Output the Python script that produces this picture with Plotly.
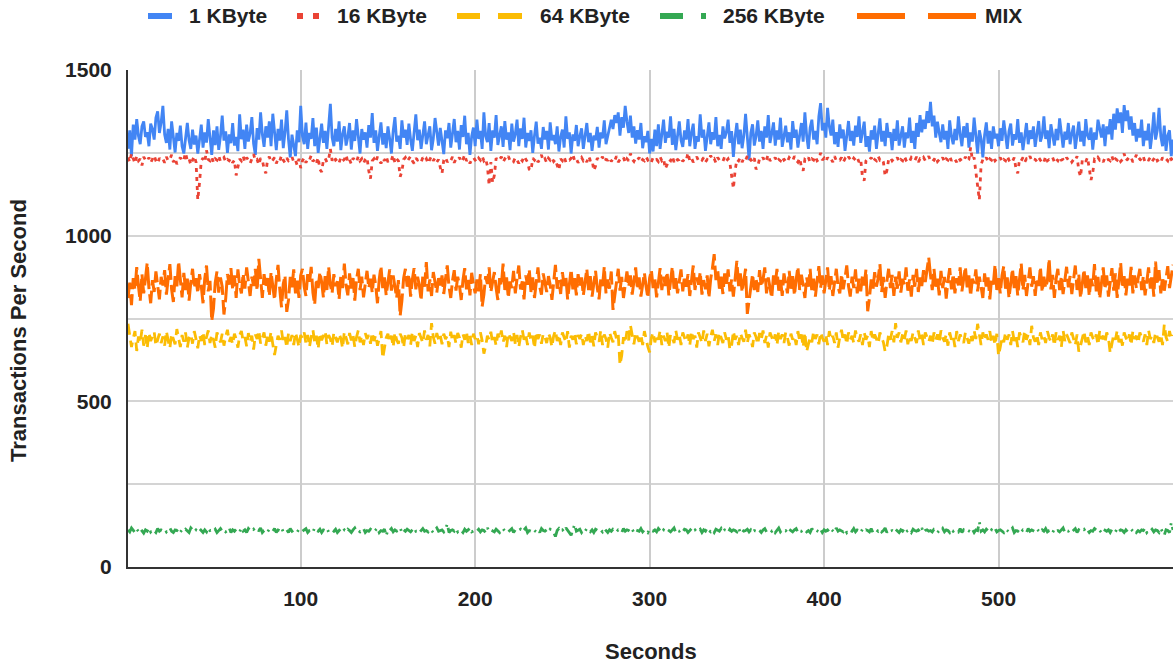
import plotly.graph_objects as go

# Transactions per second sampled once a second for each payload size
kbyte_1 = [
    1262,1318,1240,1335,1290,1352,1301,1276,1330,1345,1298,1312,1270,1338,1322,1290,1356,1375,1310,1342,
    1392,1305,1280,1322,1260,1345,1298,1251,1310,1286,1332,1270,1248,1305,1340,1288,1262,1320,1275,1302,
    1248,1290,1335,1266,1312,1281,1352,1296,1244,1318,1273,1330,1259,1300,1362,1287,1315,1250,1306,1279,
    1340,1272,1298,1255,1366,1291,1320,1262,1335,1284,1309,1358,1277,1244,1325,1290,1372,1306,1268,1330,
    1296,1345,1270,1368,1302,1258,1322,1287,1350,1264,1312,1378,1290,1236,1305,1268,1240,1318,1282,1392,
    1300,1276,1341,1262,1310,1292,1355,1270,1326,1250,1304,1338,1280,1316,1262,1348,1398,1296,1270,1322,
    1284,1345,1258,1306,1330,1272,1298,1340,1260,1318,1286,1352,1305,1248,1322,1290,1312,1266,1334,1296,
    1370,1280,1318,1256,1300,1342,1275,1309,1264,1330,1292,1248,1316,1358,1284,1302,1262,1348,1296,1320,
    1274,1338,1290,1256,1312,1366,1288,1320,1262,1305,1345,1276,1300,1330,1258,1292,1355,1310,1272,1325,
    1288,1246,1318,1294,1340,1266,1308,1352,1282,1316,1260,1334,1298,1362,1276,1310,1244,1300,1326,1270,
    1350,1292,1316,1262,1372,1300,1282,1340,1256,1318,1296,1364,1274,1308,1330,1268,1346,1290,1312,1258,
    1338,1284,1306,1350,1270,1324,1292,1356,1266,1310,1286,1318,1250,1302,1344,1278,1296,1262,1328,1290,
    1316,1260,1342,1288,1304,1276,1330,1254,1298,1320,1266,1360,1292,1312,1248,1306,1286,1334,1270,1300,
    1324,1262,1296,1340,1282,1310,1256,1302,1288,1328,1266,1312,1294,1348,1276,1300,1316,1350,1322,1364,
    1340,1372,1302,1358,1326,1392,1344,1310,1362,1296,1330,1278,1318,1290,1340,1264,1300,1282,1316,1248,
    1292,1254,1320,1270,1336,1262,1306,1350,1280,1314,1296,1360,1274,1322,1258,1300,1345,1288,1268,1318,
    1290,1352,1270,1310,1338,1262,1300,1284,1366,1296,1320,1256,1304,1342,1276,1312,1290,1358,1270,1304,
    1262,1330,1294,1312,1350,1280,1316,1238,1298,1340,1276,1320,1264,1302,1368,1290,1228,1310,1336,1272,
    1300,1348,1284,1316,1262,1330,1296,1364,1280,1308,1342,1272,1318,1290,1356,1268,1304,1332,1282,1312,
    1260,1346,1296,1320,1266,1308,1340,1284,1372,1302,1262,1326,1350,1290,1316,1276,1360,1400,1318,1340,
    1296,1386,1330,1302,1350,1276,1312,1268,1336,1294,1320,1256,1304,1346,1286,1316,1272,1332,1298,1360,
    1280,1310,1344,1268,1300,1254,1318,1290,1332,1262,1306,1354,1284,1316,1270,1340,1296,1312,1258,1322,
    1286,1348,1272,1304,1330,1266,1312,1294,1356,1280,1316,1262,1340,1298,1364,1312,1350,1322,1376,1340,
    1404,1330,1362,1296,1344,1310,1282,1336,1290,1316,1262,1348,1300,1276,1322,1288,1360,1306,1270,1330,
    1296,1340,1266,1312,1284,1356,1300,1248,1318,1292,1236,1304,1342,1278,1316,1262,1330,1294,1308,1270,
    1324,1286,1348,1300,1262,1316,1338,1272,1306,1290,1352,1280,1312,1258,1300,1340,1276,1318,1292,1330,
    1268,1310,1346,1284,1302,1360,1292,1318,1264,1336,1300,1272,1322,1288,1354,1306,1266,1314,1290,1340,
    1276,1308,1332,1262,1298,1344,1284,1316,1270,1352,1302,1290,1326,1260,1312,1290,1350,1318,1296,1336,
    1270,1330,1306,1352,1290,1368,1320,1384,1340,1372,1310,1394,1346,1378,1320,1360,1302,1340,1284,1322,
    1296,1350,1270,1316,1288,1338,1262,1306,1372,1290,1318,1386,1300,1270,1332,1256,1302,1318,1240,1290,
]

kbyte_16 = [
    1236,1222,1248,1230,1218,1240,1226,1232,1212,1238,1228,1224,1236,1220,1230,1242,1226,1218,1234,1228,
    1232,1220,1238,1226,1230,1244,1222,1234,1216,1228,1236,1224,1230,1250,1226,1232,1214,1228,1240,1222,
    1108,1160,1226,1234,1222,1258,1230,1226,1238,1220,1232,1228,1242,1224,1230,1236,1222,1230,1226,1234,
    1220,1228,1182,1210,1232,1226,1240,1222,1236,1228,1218,1232,1246,1226,1230,1214,1234,1228,1202,1188,
    1230,1238,1222,1228,1236,1218,1232,1226,1242,1228,1220,1234,1226,1230,1238,1222,1228,1212,1232,1204,
    1226,1236,1220,1232,1228,1242,1224,1230,1218,1236,1200,1192,1228,1234,1222,1230,1262,1226,1238,1228,
    1232,1220,1236,1226,1230,1244,1222,1230,1216,1234,1228,1222,1240,1226,1232,1218,1230,1236,1196,1172,
    1226,1232,1222,1238,1228,1218,1234,1226,1240,1222,1230,1228,1244,1220,1232,1226,1178,1194,1230,1236,
    1224,1232,1240,1226,1218,1234,1228,1230,1222,1236,1226,1232,1218,1230,1240,1226,1234,1222,1230,1206,
    1188,1228,1236,1222,1230,1226,1238,1220,1232,1228,1236,1222,1230,1244,1226,1232,1218,1230,1236,1228,
    1222,1234,1228,1240,1226,1232,1210,1152,1222,1160,1182,1234,1226,1230,1238,1222,1232,1228,1240,1226,
    1230,1224,1236,1228,1218,1232,1226,1240,1230,1222,1200,1196,1234,1228,1236,1222,1230,1244,1226,1232,
    1220,1234,1228,1236,1224,1230,1212,1198,1232,1226,1238,1222,1230,1228,1234,1246,1226,1232,1220,1230,
    1236,1226,1232,1222,1240,1228,1230,1196,1210,1234,1226,1232,1238,1222,1230,1228,1236,1224,1232,1226,
    1240,1222,1230,1228,1236,1220,1232,1226,1248,1230,1224,1234,1228,1236,1222,1230,1226,1238,1228,1232,
    1222,1236,1228,1230,1224,1238,1226,1232,1202,1214,1230,1226,1240,1222,1234,1228,1230,1236,1224,1232,
    1228,1250,1226,1234,1222,1230,1238,1226,1232,1228,1236,1222,1230,1226,1242,1228,1232,1220,1236,1228,
    1230,1224,1238,1226,1232,1220,1178,1142,1196,1230,1226,1236,1222,1234,1228,1240,1226,1230,1222,1234,
    1200,1210,1232,1228,1236,1222,1230,1244,1226,1232,1228,1236,1222,1230,1226,1238,1228,1232,1224,1236,
    1230,1226,1240,1228,1222,1234,1208,1196,1230,1226,1236,1222,1232,1228,1240,1226,1230,1250,1228,1234,
    1224,1236,1228,1232,1222,1240,1226,1230,1228,1236,1222,1232,1226,1238,1230,1224,1234,1228,1236,1222,
    1230,1176,1166,1226,1232,1228,1236,1222,1230,1226,1240,1228,1232,1222,1180,1196,1230,1236,1226,1232,
    1228,1236,1222,1230,1226,1240,1228,1232,1224,1236,1230,1226,1238,1222,1232,1228,1236,1226,1230,1240,
    1226,1232,1228,1238,1224,1230,1226,1236,1222,1232,1228,1240,1226,1234,1230,1222,1236,1228,1232,1226,
    1238,1224,1230,1266,1228,1236,1192,1150,1108,1214,1230,1226,1236,1222,1232,1228,1238,1226,1232,1228,
    1236,1222,1230,1226,1240,1228,1232,1224,1236,1202,1188,1230,1226,1236,1222,1232,1228,1240,1226,1232,
    1230,1224,1236,1228,1232,1222,1240,1226,1230,1228,1236,1222,1232,1226,1238,1228,1230,1224,1236,1228,
    1232,1222,1230,1226,1240,1196,1178,1228,1232,1224,1236,1202,1168,1190,1230,1226,1236,1228,1232,1222,
    1236,1228,1230,1226,1240,1222,1232,1228,1236,1224,1230,1248,1226,1232,1228,1236,1222,1230,1244,1228,
    1232,1226,1238,1222,1230,1228,1236,1224,1232,1240,1226,1230,1222,1236,1228,1232,1226,1240,1230,1234,
]

kbyte_64 = [
    734,698,664,690,712,652,696,676,716,668,700,660,708,682,694,710,668,690,704,676,
    696,668,712,684,660,704,690,672,718,688,664,700,680,708,662,692,702,674,712,688,
    660,700,682,710,670,694,714,676,702,686,662,708,692,678,704,668,696,716,680,694,
    672,704,688,662,700,712,682,694,666,706,680,698,656,702,688,714,674,694,708,668,
    700,680,710,672,640,670,698,686,714,676,694,662,706,682,700,670,708,688,664,700,
    690,708,674,700,664,694,716,678,698,658,706,684,696,712,672,700,688,666,708,694,
    678,704,690,660,710,692,672,706,684,700,664,694,714,678,698,670,706,688,700,674,
    708,682,700,668,694,712,630,656,692,704,678,698,664,708,686,674,704,692,662,706,
    688,700,670,710,682,698,664,706,692,676,714,686,700,666,736,694,674,706,686,700,
    672,704,688,698,664,710,682,700,674,706,692,662,702,686,712,676,698,670,704,688,
    700,672,708,684,644,666,698,686,710,676,694,668,704,688,714,678,698,664,706,692,
    682,710,672,700,664,694,716,686,702,670,708,682,698,660,710,688,702,674,704,694,
    676,706,692,664,698,714,682,702,670,708,692,678,712,662,698,686,708,672,700,688,
    704,670,698,682,712,678,700,666,708,692,680,714,670,702,688,662,708,692,678,712,
    688,702,610,638,694,676,712,684,730,700,672,708,690,680,702,670,712,686,664,648,
    692,708,678,702,686,714,670,698,682,708,662,702,692,676,714,686,702,670,708,692,
    680,702,668,712,688,698,662,708,692,676,714,682,704,666,694,716,682,702,670,708,
    692,676,708,686,702,656,668,712,686,698,670,706,692,680,716,676,702,688,664,708,
    694,672,706,686,714,676,698,662,708,692,680,702,670,712,688,702,676,708,692,668,
    704,686,698,670,712,682,702,664,708,650,668,694,678,712,688,702,672,708,692,680,
    702,670,712,686,698,676,708,662,694,716,682,702,672,708,686,698,676,714,690,680,
    702,670,708,686,698,664,712,682,702,688,674,708,692,678,650,666,702,686,712,678,
    736,692,708,678,702,686,714,672,698,682,708,692,676,714,686,702,670,708,692,680,
    698,672,708,686,702,676,714,692,680,702,668,708,686,698,664,712,682,702,688,676,
    708,690,674,702,682,714,688,734,696,670,708,684,702,686,712,676,698,670,704,638,
    664,694,678,708,686,702,670,712,682,698,664,708,692,678,714,686,702,670,728,692,
    680,702,670,708,686,698,676,712,692,680,702,668,708,686,698,664,714,682,702,690,
    676,708,692,670,702,650,668,688,712,678,698,670,708,692,682,702,670,714,688,698,
    676,708,692,646,670,702,686,714,678,698,668,708,692,680,702,670,712,688,698,676,
    708,692,680,702,670,714,688,698,676,708,692,680,702,670,732,694,680,712,688,700,
]

kbyte_256 = [
    112,106,118,110,104,114,108,116,110,102,112,108,118,106,112,110,104,116,108,112,
    110,114,106,112,118,108,104,112,110,116,106,112,108,114,110,104,118,110,106,112,
    108,116,110,104,112,106,118,110,112,108,114,104,110,116,108,112,106,110,118,104,
    112,108,114,110,106,118,108,112,104,116,110,108,114,106,112,110,118,104,110,112,
    106,114,110,108,116,104,112,110,118,106,110,112,104,116,108,112,110,106,114,110,
    108,112,116,104,110,112,106,118,110,108,114,104,112,110,116,106,110,112,108,114,
    104,110,116,108,112,106,114,110,104,112,118,108,110,106,112,116,104,110,108,114,
    110,106,112,118,104,110,108,114,94,112,110,116,106,112,108,110,118,104,112,108,
    114,110,106,112,118,108,110,104,112,116,108,110,106,114,110,104,112,118,108,110,
    112,106,114,130,104,110,112,108,116,106,112,110,104,114,108,112,118,106,110,112,
    108,114,106,112,110,104,118,108,112,110,106,114,110,104,112,116,108,110,106,112,
    116,104,112,108,110,114,106,112,118,104,110,108,114,110,106,112,104,116,110,108,
    112,106,114,110,104,92,110,116,108,112,106,118,110,104,96,112,128,108,110,114,
    104,112,108,116,110,106,112,104,114,110,108,112,106,116,110,104,112,108,114,110,
    106,112,110,104,116,108,112,110,106,114,104,112,110,108,116,106,112,110,104,114,
    110,108,112,106,116,110,104,112,108,114,110,106,112,118,104,110,108,112,106,114,
    112,104,110,116,108,112,106,110,114,104,112,108,118,110,106,112,104,114,110,108,
    116,106,112,110,104,114,108,112,110,106,118,104,112,108,110,114,106,112,104,110,
    108,114,110,104,112,116,106,110,112,108,114,104,110,118,106,112,108,110,104,114,
    110,106,112,116,104,110,108,114,112,106,110,104,116,108,112,110,106,114,104,112,
    108,112,106,114,110,104,118,108,112,110,106,114,104,112,110,108,116,106,112,110,
    104,114,108,112,110,106,116,104,110,112,108,114,106,110,118,104,112,108,110,106,
    114,110,104,112,108,116,106,110,112,104,114,110,108,112,106,118,104,110,112,108,
    110,106,114,112,104,110,108,116,106,112,110,104,114,108,112,110,106,116,104,112,
    108,112,110,106,114,104,112,110,136,108,112,106,114,110,104,112,108,116,106,110,
    112,108,104,114,110,106,112,118,104,110,108,114,106,112,110,104,116,108,112,110,
    106,114,110,104,112,108,116,106,110,112,104,114,108,110,106,112,118,104,110,108,
    112,106,110,116,104,112,108,110,114,106,112,104,110,108,116,112,106,110,104,114,
    110,108,112,104,114,110,106,116,108,112,110,104,112,106,110,114,108,112,104,110,
    106,112,110,118,104,110,108,114,106,112,110,104,116,108,96,112,110,104,134,112,
]

mix = [
    812,858,790,872,836,905,848,802,884,826,870,918,842,796,866,830,892,854,808,876,
    850,896,822,868,914,838,800,878,846,922,860,814,888,836,870,804,858,900,842,872,
    826,884,848,796,870,910,832,864,742,780,858,892,828,874,846,762,810,884,852,902,
    836,880,812,898,850,826,886,840,904,862,818,876,848,900,834,930,856,812,884,842,
    872,818,890,846,806,868,912,838,784,854,880,770,806,876,844,898,826,864,812,880,
    900,846,818,884,856,906,828,792,870,842,890,860,814,878,836,906,852,826,884,848,
    862,808,880,842,916,850,820,886,838,872,804,868,900,836,876,814,858,894,842,870,
    828,882,850,796,868,908,842,874,820,858,898,834,880,846,812,866,758,804,872,900,
    846,884,816,868,902,838,876,850,804,880,846,920,832,868,818,890,856,828,872,842,
    880,824,870,910,846,812,864,896,834,876,850,806,866,902,838,872,820,888,852,826,
    868,832,884,786,822,878,854,904,830,866,890,842,806,872,848,916,836,874,812,862,
    842,894,826,870,910,838,862,808,880,852,898,830,874,812,866,904,846,822,886,856,
    830,878,852,806,870,912,840,866,824,890,848,876,808,862,898,838,872,820,884,846,
    874,820,866,900,836,878,816,862,894,842,808,870,848,906,826,868,840,892,776,818,
    862,900,834,876,812,858,892,846,880,822,868,904,838,874,816,860,888,846,812,872,
    896,842,870,814,858,902,836,876,848,890,820,864,906,840,872,826,862,898,832,878,
    846,884,818,868,910,836,874,852,890,822,866,838,880,812,870,902,944,866,898,840,
    876,824,886,850,898,832,868,816,872,924,848,886,830,874,900,764,806,858,884,836,
    872,830,896,846,868,904,826,874,846,812,880,852,900,834,870,818,886,852,826,894,
    840,878,820,868,906,836,882,850,812,874,846,900,830,870,816,864,908,842,880,826,
    866,904,834,878,818,868,900,846,826,884,838,872,910,848,816,876,842,898,826,870,
    832,880,850,898,772,812,868,836,890,846,872,914,830,876,812,862,900,842,882,818,
    876,840,892,828,870,852,904,834,868,816,882,846,900,830,874,848,896,860,904,934,
    880,836,900,846,872,820,894,842,876,810,864,902,838,884,826,872,850,904,832,868,
    906,844,880,818,870,856,898,832,876,846,812,886,840,874,808,870,852,912,836,872,
    826,880,908,840,874,812,866,900,842,878,820,868,916,836,882,818,862,904,846,878,
    818,872,848,906,830,876,842,864,930,838,882,812,870,900,836,878,824,866,906,844,
    878,824,868,910,836,884,812,862,898,842,880,818,870,848,914,832,876,810,866,904,
    838,880,816,868,902,834,886,812,864,918,842,878,820,870,848,906,826,880,842,872,
    900,836,878,820,866,904,840,882,816,922,852,896,826,876,834,870,908,842,878,912,
]

series_names = ["1 KByte", "16 KByte", "64 KByte", "256 KByte", "MIX"]
series_values = [kbyte_1, kbyte_16, kbyte_64, kbyte_256, mix]
x_ticks = [100, 200, 300, 400, 500]
y_ticks = [0, 500, 1000, 1500]
y_minor = [250, 750, 1250]

colors = ["#4285F4", "#EA4335", "#FBBC04", "#34A853", "#FF6D01"]
dashes = ["solid", "4px,5px", "11px,6px", "12px,5px,2px,5px", "22px,5px"]
widths = [2.8, 2.8, 2.8, 2.8, 3.0]

W, H = 1175, 666
L, R, T, B = 128, 2, 70, 99
PW, PH = W - L - R, H - T - B
FONT = "Liberation Sans, Arial, sans-serif"
INK = "#222222"


def px(x):
    return (x - L) / PW


def py(y):
    return (H - B - y) / PH


fig = go.Figure()
for name, vals, c, d, w in zip(series_names, series_values, colors, dashes, widths):
    fig.add_trace(go.Scatter(
        x=list(range(1, len(vals) + 1)), y=vals, name=name, mode="lines",
        line=dict(color=c, width=w, dash=d), showlegend=False, hoverinfo="skip",
    ))

# Legend row drawn as swatches + labels across the top
swatch_segments = [
    [(148, 172)],
    [(297, 303), (313, 319)],
    [(457, 480), (498, 522)],
    [(660, 683), (701, 706)],
    [(857, 905), (928, 976)],
]
label_x = [187, 335, 538, 721, 983]
LEG_Y = 16
shapes = []
for segs, c in zip(swatch_segments, colors):
    for x0, x1 in segs:
        shapes.append(dict(type="line", xref="paper", yref="paper",
                           x0=px(x0), x1=px(x1), y0=py(LEG_Y), y1=py(LEG_Y),
                           line=dict(color=c, width=6)))

annotations = []
for name, lx in zip(series_names, label_x):
    annotations.append(dict(text=name, xref="paper", yref="paper", x=px(lx), y=py(LEG_Y),
                            xanchor="left", yanchor="middle", showarrow=False,
                            font=dict(family=FONT, size=21, color=INK, weight="bold")))

annotations.append(dict(text="Seconds", xref="paper", yref="paper", x=0.5, y=py(651),
                        xanchor="center", yanchor="middle", showarrow=False,
                        font=dict(family=FONT, size=22, color=INK, weight="bold")))
annotations.append(dict(text="Transactions Per Second", xref="paper", yref="paper",
                        x=px(18), y=py(331), textangle=-90,
                        xanchor="center", yanchor="middle", showarrow=False,
                        font=dict(family=FONT, size=22, color=INK, weight="bold")))

fig.update_layout(
    width=W, height=H,
    margin=dict(l=L, r=R, t=T, b=B, autoexpand=False),
    paper_bgcolor="white", plot_bgcolor="white",
    showlegend=False,
    shapes=shapes, annotations=annotations,
    xaxis=dict(
        range=[1, 600], tickvals=x_ticks, ticktext=[str(v) for v in x_ticks],
        showgrid=True, gridcolor="#cccccc", gridwidth=1.5, zeroline=False,
        showline=True, linecolor="#333333", linewidth=2,
        ticks="", ticklabelstandoff=12,
        tickfont=dict(family=FONT, size=21, color=INK, weight="bold"),
    ),
    yaxis=dict(
        range=[0, 1500], tickvals=y_ticks, ticktext=[str(v) for v in y_ticks],
        showgrid=True, gridcolor="#d4d4d4", gridwidth=1.5, zeroline=False,
        showline=True, linecolor="#333333", linewidth=2,
        ticks="", ticklabelstandoff=10,
        tickfont=dict(family=FONT, size=21, color=INK, weight="bold"),
        minor=dict(tickvals=y_minor, showgrid=True, gridcolor="#d4d4d4", gridwidth=1.5),
    ),
)

fig.write_html("out.html")
